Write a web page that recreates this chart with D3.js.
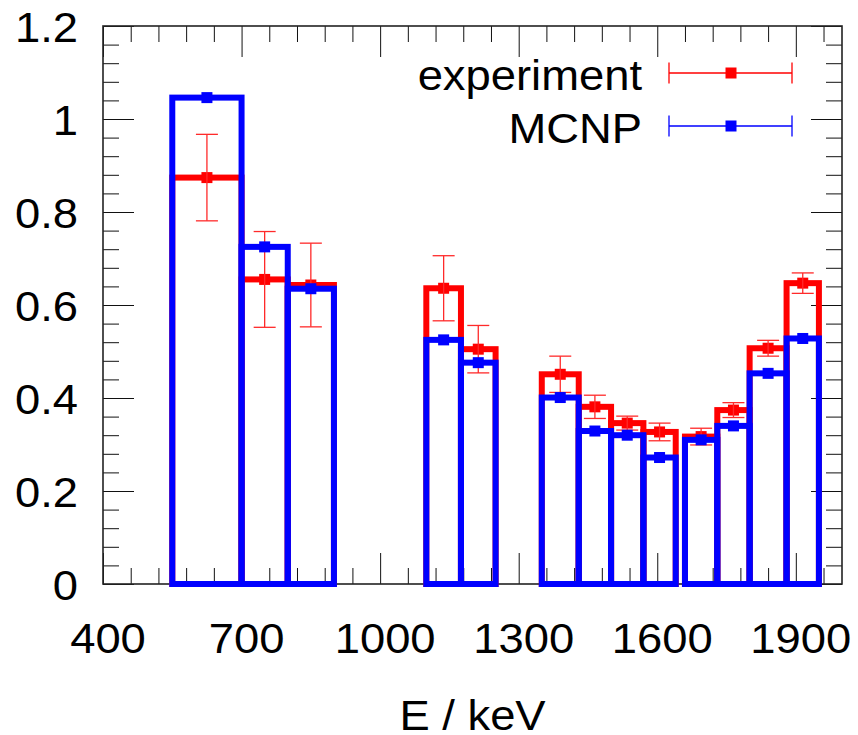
<!DOCTYPE html>
<html><head><meta charset="utf-8">
<script src="https://cdn.jsdelivr.net/npm/d3@7"></script>
<style>body{margin:0;background:#fff}svg{display:block}</style>
</head><body>
<svg id="c" width="858" height="735"></svg>
<script>
// ---- data ----
const binLo   = [550, 700, 800, 1100, 1175, 1350, 1430, 1500, 1570, 1660, 1730, 1800, 1880];
const binHi   = [700, 800, 900, 1175, 1250, 1430, 1500, 1570, 1640, 1730, 1800, 1880, 1950];
const expVals = [0.874, 0.655, 0.643, 0.636, 0.505, 0.451, 0.381, 0.346, 0.327, 0.317, 0.374, 0.507, 0.647];
const expErrs = [0.093, 0.103, 0.090, 0.070, 0.051, 0.039, 0.025, 0.015, 0.019, 0.018, 0.016, 0.017, 0.022];
const mcnpVals= [1.046, 0.725, 0.635, 0.525, 0.476, 0.401, 0.329, 0.320, 0.272, 0.310, 0.340, 0.453, 0.528];
const xMajor  = [400, 700, 1000, 1300, 1600, 1900];
const yMajor  = [0, 0.2, 0.4, 0.6, 0.8, 1, 1.2];
const yLabels = ["0", "0.2", "0.4", "0.6", "0.8", "1", "1.2"];
const seriesNames = ["experiment", "MCNP"];
const xTitle = "E / keV";

// ---- layout ----
const L = 103, R = 842, T = 26, B = 584;
const FS = 42, SX = 1.08, FONT = "'Liberation Sans', Arial, sans-serif";
const svg = d3.select("#c");
const x = d3.scaleLinear().domain([400, 2000]).range([L, R]);
const y = d3.scaleLinear().domain([0, 1.2]).range([B, T]);
const xMinor = d3.range(400, 2001, 60).filter(v => !xMajor.includes(v));
const yMinor = d3.range(0, 61).map(i => +(i * 0.04).toFixed(2)).filter(v => v <= 1.2 && !yMajor.some(m => Math.abs(m - v) < 1e-6));

function txt(g, s, tx, ty, anchor) {
  g.append("text").attr("transform", `translate(${tx},${ty}) scale(${SX},1)`)
    .attr("text-anchor", anchor).attr("font-family", FONT).attr("font-size", FS)
    .attr("fill", "#000").text(s);
}

// axes ticks via d3.axis
const ax = svg.append("g").attr("stroke-width", 1);
ax.append("g").attr("transform", `translate(0,${B})`).call(d3.axisBottom(x).tickValues(xMajor).tickSize(-31).tickFormat("")).call(g => g.select(".domain").remove());
ax.append("g").attr("transform", `translate(0,${B})`).call(d3.axisBottom(x).tickValues(xMinor).tickSize(-16).tickFormat("")).call(g => g.select(".domain").remove());
ax.append("g").attr("transform", `translate(0,${T})`).call(d3.axisTop(x).tickValues(xMajor).tickSize(-31).tickFormat("")).call(g => g.select(".domain").remove());
ax.append("g").attr("transform", `translate(0,${T})`).call(d3.axisTop(x).tickValues(xMinor).tickSize(-16).tickFormat("")).call(g => g.select(".domain").remove());
ax.append("g").attr("transform", `translate(${L},0)`).call(d3.axisLeft(y).tickValues(yMajor).tickSize(-31).tickFormat("")).call(g => g.select(".domain").remove());
ax.append("g").attr("transform", `translate(${L},0)`).call(d3.axisLeft(y).tickValues(yMinor).tickSize(-16).tickFormat("")).call(g => g.select(".domain").remove());
ax.append("g").attr("transform", `translate(${R},0)`).call(d3.axisRight(y).tickValues(yMajor).tickSize(-31).tickFormat("")).call(g => g.select(".domain").remove());
ax.append("g").attr("transform", `translate(${R},0)`).call(d3.axisRight(y).tickValues(yMinor).tickSize(-16).tickFormat("")).call(g => g.select(".domain").remove());
ax.selectAll("line").attr("stroke", "#111");

// frame
svg.append("rect").attr("x", L).attr("y", T).attr("width", R - L).attr("height", B - T)
  .attr("fill", "none").attr("stroke", "#222").attr("stroke-width", 1.6);

// tick labels
const lab = svg.append("g");
xMajor.forEach(v => txt(lab, String(v), x(v) + 5, B + 69, "middle"));
yMajor.forEach((v, i) => txt(lab, yLabels[i], 78, y(v) + 16, "end"));
txt(lab, xTitle, (L + R) / 2, 730, "middle");

const bins = binLo.map((lo, i) => ({lo, hi: binHi[i], e: expVals[i], err: expErrs[i], m: mcnpVals[i]}));
const HW = 6, MS = 11, CAP = 11;

// experiment histogram
const gr = svg.append("g");
gr.selectAll("rect").data(bins).join("rect")
  .attr("x", d => x(d.lo)).attr("y", d => y(d.e))
  .attr("width", d => x(d.hi) - x(d.lo)).attr("height", d => y(0) - y(d.e))
  .attr("fill", "none").attr("stroke", "#ff0000").attr("stroke-width", HW);
// error bars
const eb = svg.append("g").attr("stroke", "#ff2a2a").attr("stroke-width", 1.3);
bins.forEach(d => {
  const cx = x((d.lo + d.hi) / 2);
  eb.append("line").attr("x1", cx).attr("x2", cx).attr("y1", y(d.e + d.err)).attr("y2", y(d.e - d.err));
  [d.e + d.err, d.e - d.err].forEach(v => eb.append("line").attr("x1", cx - CAP).attr("x2", cx + CAP).attr("y1", y(v)).attr("y2", y(v)));
});
gr.append("g").selectAll("rect").data(bins).join("rect")
  .attr("x", d => x((d.lo + d.hi) / 2) - MS / 2).attr("y", d => y(d.e) - MS / 2)
  .attr("width", MS).attr("height", MS).attr("fill", "#ff0000");

// MCNP histogram
const gb = svg.append("g");
gb.selectAll("rect").data(bins).join("rect")
  .attr("x", d => x(d.lo)).attr("y", d => y(d.m))
  .attr("width", d => x(d.hi) - x(d.lo)).attr("height", d => y(0) - y(d.m))
  .attr("fill", "none").attr("stroke", "#0000ff").attr("stroke-width", HW);
gb.append("g").selectAll("rect").data(bins).join("rect")
  .attr("x", d => x((d.lo + d.hi) / 2) - MS / 2).attr("y", d => y(d.m) - MS / 2)
  .attr("width", MS).attr("height", MS).attr("fill", "#0000ff");

// legend
const lg = svg.append("g");
const legColors = ["#ff0000", "#0000ff"];
const legY = [73, 126];
seriesNames.forEach((n, i) => {
  const c = legColors[i], ly = legY[i];
  txt(lg, n, 642, ly + 17, "end");
  lg.append("line").attr("x1", 669).attr("x2", 792).attr("y1", ly).attr("y2", ly).attr("stroke", c).attr("stroke-width", 1.3);
  [669, 792].forEach(xx => lg.append("line").attr("x1", xx).attr("x2", xx).attr("y1", ly - 10.5).attr("y2", ly + 10.5).attr("stroke", c).attr("stroke-width", 1.3));
  lg.append("rect").attr("x", 731 - MS / 2).attr("y", ly - MS / 2).attr("width", MS).attr("height", MS).attr("fill", c);
});
</script>
</body></html>
